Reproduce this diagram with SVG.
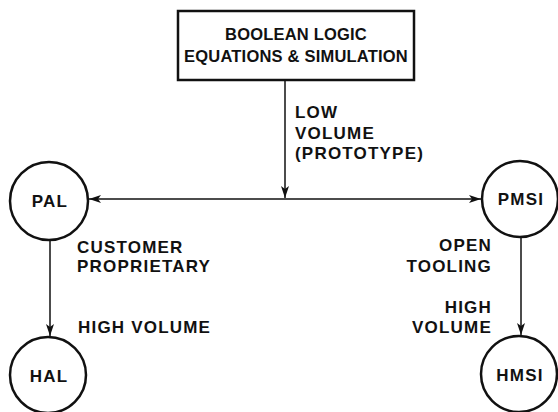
<svg xmlns="http://www.w3.org/2000/svg" width="558" height="412" viewBox="0 0 558 412">
<style>
text{font-family:"Liberation Sans",Arial,sans-serif;font-weight:bold;font-size:17px;letter-spacing:1.2px;fill:#111}
.t{font-size:16.5px;letter-spacing:0.2px}
.c{text-anchor:middle}
.r{text-anchor:end}
.node{fill:#fff;stroke:#111;stroke-width:2.5}
.conn{stroke:#111;stroke-width:1.5;fill:none}
</style>
<defs>
<marker id="ah" viewBox="0 0 12 8" refX="12" refY="4" markerWidth="12" markerHeight="8" markerUnits="userSpaceOnUse" orient="auto-start-reverse">
<path d="M0,0 L12,4 L0,8 L3,4 Z" fill="#111"/>
</marker>
</defs>
<g id="connectors">
<line class="conn" x1="285" y1="81" x2="285" y2="198" marker-end="url(#ah)"/>
<line class="conn" x1="89" y1="199" x2="481" y2="199" marker-start="url(#ah)" marker-end="url(#ah)"/>
<line class="conn" x1="50" y1="240" x2="50" y2="336" marker-end="url(#ah)"/>
<line class="conn" x1="521" y1="238" x2="521" y2="335" marker-end="url(#ah)"/>
<text x="295" y="118">LOW</text>
<text x="295" y="139">VOLUME</text>
<text x="295" y="159">(PROTOTYPE)</text>
<text x="77" y="253">CUSTOMER</text>
<text x="77" y="272">PROPRIETARY</text>
<text x="78" y="333">HIGH VOLUME</text>
<text class="r" x="492" y="251">OPEN</text>
<text class="r" x="492" y="272">TOOLING</text>
<text class="r" x="492" y="313">HIGH</text>
<text class="r" x="492" y="333">VOLUME</text>
</g>
<g id="boolean">
<rect class="node" x="178" y="11" width="236" height="69"/>
<text class="c t" x="296" y="40">BOOLEAN LOGIC</text>
<text class="c t" x="296" y="62">EQUATIONS &amp; SIMULATION</text>
</g>
<g id="pal">
<circle class="node" cx="49" cy="201" r="39"/>
<text class="c" x="50" y="207">PAL</text>
</g>
<g id="pmsi">
<circle class="node" cx="520" cy="199" r="38"/>
<text class="c" x="521" y="205">PMSI</text>
</g>
<g id="hal">
<circle class="node" cx="48" cy="375" r="38"/>
<text class="c" x="49" y="382">HAL</text>
</g>
<g id="hmsi">
<circle class="node" cx="519" cy="374" r="38"/>
<text class="c" x="520" y="381">HMSI</text>
</g>
</svg>
